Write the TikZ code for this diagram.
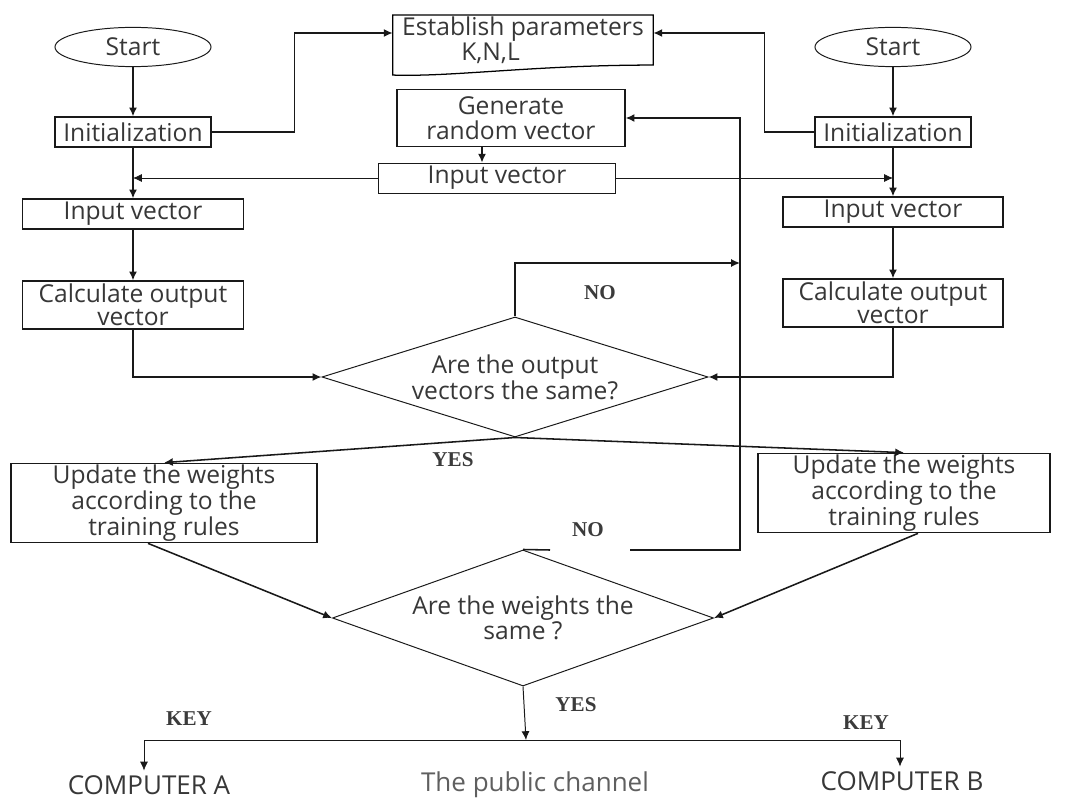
\documentclass[tikz,border=0pt]{standalone}
\usepackage{fontspec}
\setmainfont{Open Sans}
\newfontfamily\labelfont{Liberation Serif}
\usetikzlibrary{arrows.meta,shapes.geometric,calc}
\definecolor{ink}{RGB}{25,25,25}
\definecolor{txt}{RGB}{55,55,55}
\newcommand{\boxfont}{\fontsize{17.5}{16.5}\selectfont}
\tikzset{
  >={Latex[length=2.2mm,width=2mm]},
  box/.style={draw=ink,line width=0.9pt,minimum width=#1,minimum height=0.75cm,
    inner sep=1pt,align=center,text=txt,font=\boxfont},
  box/.default=3.9cm,
  term/.style={ellipse,draw=ink,line width=0.7pt,minimum width=3.9cm,
    minimum height=0.98cm,inner sep=1pt,text=txt,font=\boxfont},
  decide/.style={diamond,draw=ink,line width=0.7pt,inner sep=0pt,align=center,
    text=txt,font=\boxfont},
  flow/.style={->,draw=ink,line width=1.1pt},
  link/.style={->,draw=ink,line width=0.5pt},
  answer/.style={font=\labelfont\bfseries\fontsize{15}{15}\selectfont,text=ink!85},
  caption/.style={font=\fontsize{18.5}{18}\selectfont,text=txt},
}
\begin{document}
\begin{tikzpicture}[x=0.025cm,y=-0.025cm]
\useasboundingbox (0,0) rectangle (1073,801);
% computer A
\node[term] (sl) at (133,47) {Start};
\node[box] (il) at (133,132) {Initialization};
\node[box=5.525cm] (vl) at (133,214) {Input vector};
\node[box=5.525cm,minimum height=1.2cm] (cl) at (133,305) {Calculate output\\vector};
\node[box=7.65cm,minimum height=1.825cm] (ul) at (164,503) {Update the weights\\according to the\\training rules};
% computer B
\node[term] (sr) at (893,47) {Start};
\node[box] (ir) at (893,132) {Initialization};
\node[box=5.5cm] (vr) at (893,212) {Input vector};
\node[box=5.5cm,minimum height=1.2cm] (cr) at (893,303) {Calculate output\\vector};
\node[box=7.3cm,minimum height=1.825cm] (ur) at (904,493) {Update the weights\\according to the\\training rules};
% shared part
\node[minimum width=6.5cm,minimum height=1.2cm,inner sep=1pt,align=left,text=txt,font=\boxfont] (par) at (523,40)
  {Establish parameters\\\hspace*{2.4em}K,N,L};
\draw[line width=0.9pt] (par.north west) -- (par.north east) -- (par.south east)
  .. controls +(-120,0) and +(60,2) .. ([yshift=-0.25cm]par.south west) -- cycle;
\node[box=5.7cm,minimum height=1.425cm,font=\fontsize{17.5}{18}\selectfont] (gen) at (511,118) {Generate\\random vector};
\node[box=5.925cm,line width=0.5pt] (iv) at (497,178) {Input vector};
\node[decide,aspect=3.2,minimum width=9.65cm,minimum height=3cm] (d1) at (515,377)
  {Are the output\\vectors the same?};
\node[decide,aspect=2.8,minimum width=9.525cm,minimum height=3.4cm] (d2) at (523,618)
  {Are the weights the\\same ?};
\coordinate (gx) at (482,0);
\coordinate (nt) at (740,263);
\coordinate (na) at (550,550);
\coordinate (nb) at (630,550);
\coordinate (nc) at (740,550);
\coordinate (bus) at (526,740);
\coordinate (ka) at (144,740);
\coordinate (kb) at (900,740);
% connectors
\draw[flow] (sl) -- (il);
\draw[flow] (il) -- (vl);
\draw[flow] (vl) -- (cl);
\draw[flow] (sr) -- (ir);
\draw[flow] (ir) -- (vr);
\draw[flow] (vr) -- (cr);
\draw[flow] (il.east) -- ++(83,0) |- ([yshift=0.175cm]par.west);
\draw[flow] (ir.west) -- ++(-50,0) |- ([yshift=0.175cm]par.east);
\draw[flow] (gen.south -| gx) -- (iv.north -| gx);
\draw[link] (iv.west) -- (iv.west -| il.south);
\draw[link] (iv.east) -- (iv.east -| ir.south);
\draw[flow] (cl.south) |- (d1.west);
\draw[flow] (cr.south) |- (d1.east);
\draw[flow] (d1.north) |- (nt);
\node[answer] at (600,293) {NO};
\draw[flow] (d1.south) -- (ul.north);
\draw[flow] (d1.south) -- (ur.north);
\node[answer] at (453,460) {YES};
\draw[flow] ([xshift=-0.4cm]ul.south) -- (d2.west);
\draw[flow] ([xshift=0.35cm]ur.south) -- (d2.east);
\draw[line width=1.1pt,ink] (d2.north) -- (na);
\draw[flow] (nb) -- (nc) |- (gen.east);
\node[answer] at (588,530) {NO};
% key to both computers
\draw[flow,line width=0.7pt] (d2.south) -- (bus);
\node[answer] at (576,705) {YES};
\draw[line width=0.7pt,ink] (ka) -- (kb);
\node[caption] (ca) at (149,785) {COMPUTER A};
\node[caption,text=txt!80] (pc) at (535,785) {The public channel};
\node[caption] (cb) at (902,781) {COMPUTER B};
\draw[link] (ka) -- (ka |- ca.north);
\draw[link] (kb) -- (kb |- cb.north);
\node[answer] at (189,719) {KEY};
\node[answer] at (866,723) {KEY};
\end{tikzpicture}
\end{document}
